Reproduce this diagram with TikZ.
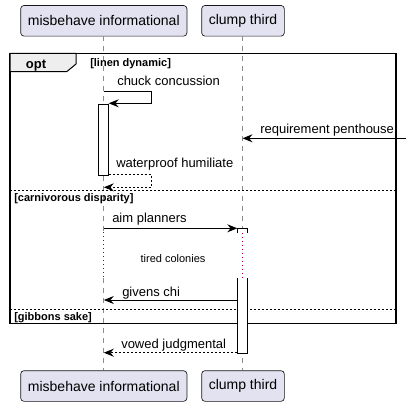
\documentclass[tikz,border=0pt]{standalone}
\usepackage{fontspec}
\setmainfont{Liberation Sans}
\usetikzlibrary{arrows.meta}
\begin{document}
\begin{tikzpicture}[x=0.75pt,y=-0.75pt,line join=miter,
  participant/.style={draw=partedge,fill=partfill,line width=0.5,rounded corners=2.5,
    minimum height=23pt,inner sep=0,font=\fontsize{10.5}{12}\selectfont},
  lifeline/.style={draw=lifegray,line width=0.75,dash pattern=on 3.75pt off 3.75pt},
  delayline/.style={draw=delayred,line width=0.75,dash pattern=on 0.75pt off 2.25pt},
  msg/.style={draw=black,line width=0.75,-{Stealth[length=7.5pt,width=6pt,inset=2.5pt]}},
  reply/.style={msg,dash pattern=on 1.5pt off 1.5pt},
  msglabel/.style={anchor=base west,inner sep=0,font=\fontsize{9.75}{11}\selectfont},
  grouplabel/.style={anchor=base west,inner sep=0,font=\bfseries\fontsize{8.25}{10}\selectfont},
  activation/.style={draw=black,fill=white,line width=0.75}]
\definecolor{partfill}{HTML}{E2E2F0}
\definecolor{partedge}{HTML}{181818}
\definecolor{lifegray}{HTML}{8C8C8C}
\definecolor{delayred}{HTML}{A80036}
\definecolor{tabfill}{HTML}{EEEEEE}

\useasboundingbox (0,0) rectangle (410,407);

% participants
\node[participant,minimum width=124.7pt] (mi-top) at (103.8,20.8) {misbehave informational};
\node[participant,minimum width=62pt] (cl-top) at (243,20.8) {clump third};
\node[participant,minimum width=124.7pt] (mi-bot) at (103.8,386) {misbehave informational};
\node[participant,minimum width=62pt] (cl-bot) at (243,386) {clump third};

% lifelines, broken by the delay
\coordinate (mi-d1) at (103.8,232);
\coordinate (mi-d2) at (103.8,278);
\coordinate (cl-d1) at (242.5,233);
\coordinate (cl-d2) at (242.5,278);
\draw[lifeline] (mi-top.south) -- (mi-d1);
\draw[delayline] (mi-d1) -- (mi-d2);
\draw[lifeline] (mi-d2) -- (mi-bot.north);
\draw[lifeline] (cl-top.south -| cl-d1) -- (cl-d1);
\draw[delayline] (cl-d1) -- (cl-d2);
\draw[lifeline] (cl-d2) -- (cl-bot.north -| cl-d2);

% group frame
\draw[line width=1.1] (10,53.3) rectangle (396,323.3);
\draw[fill=tabfill,line width=0.75] (10,53.3) -- (76,53.3) -- (76,64) -- (66.7,71.7) -- (10,71.7) -- cycle;
\node[anchor=base,inner sep=0,font=\bfseries\fontsize{9.75}{11}\selectfont] (opt) at (36,68) {opt};
\node[grouplabel] (g1) at (90,66.7) {[linen dynamic]};
\draw[line width=0.75,dash pattern=on 1.5pt off 1.5pt] (10,190.7) -- (396,190.7);
\node[grouplabel] (g2) at (14,201.7) {[carnivorous disparity]};
\draw[line width=0.75,dash pattern=on 1.5pt off 1.5pt] (10,309.3) -- (396,309.3);
\node[grouplabel] (g3) at (14,320) {[gibbons sake]};

% activations
\draw[activation] (98.7,104) rectangle (108.7,175);
\coordinate (mi-act-top) at (108.7,103.3);
\coordinate (mi-act-bot) at (108.7,174);
\draw[activation] (237.3,233) -- (237.3,228) -- (247.3,228) -- (247.3,233);
\draw[activation] (247.3,278) -- (247.3,353) -- (237.3,353) -- (237.3,278);

% messages
\coordinate (m1) at (103.8,91);
\draw[msg] (m1) -- (151,91) |- (mi-act-top);
\node[msglabel] (l1) at (117,85) {chuck concussion};

\coordinate (ext) at (406,138.3);
\coordinate (m2) at (242.5,138.3);
\draw[msg] (ext) -- (m2);
\node[msglabel] (l2) at (260,133) {requirement penthouse};

\coordinate (m3) at (103.8,187.3);
\draw[reply] (mi-act-bot) -- (151,174) |- (m3);
\node[msglabel] (l3) at (116,167.7) {waterproof humiliate};

\coordinate (m4a) at (103.8,228.3);
\coordinate (m4b) at (237.3,228.3);
\draw[msg] (m4a) -- (m4b);
\node[msglabel] (l4) at (112,222.7) {aim planners};

\node[anchor=base,inner sep=0,font=\fontsize{8.25}{10}\selectfont] (delay) at (173,262) {tired colonies};

\coordinate (m5a) at (237.3,300);
\coordinate (m5b) at (103.8,300);
\draw[msg] (m5a) -- (m5b);
\node[msglabel] (l5) at (122,296) {givens chi};

\coordinate (m6a) at (237.3,352.7);
\coordinate (m6b) at (103.8,352.7);
\draw[reply] (m6a) -- (m6b);
\node[msglabel] (l6) at (121,348.3) {vowed judgmental};
\end{tikzpicture}
\end{document}
